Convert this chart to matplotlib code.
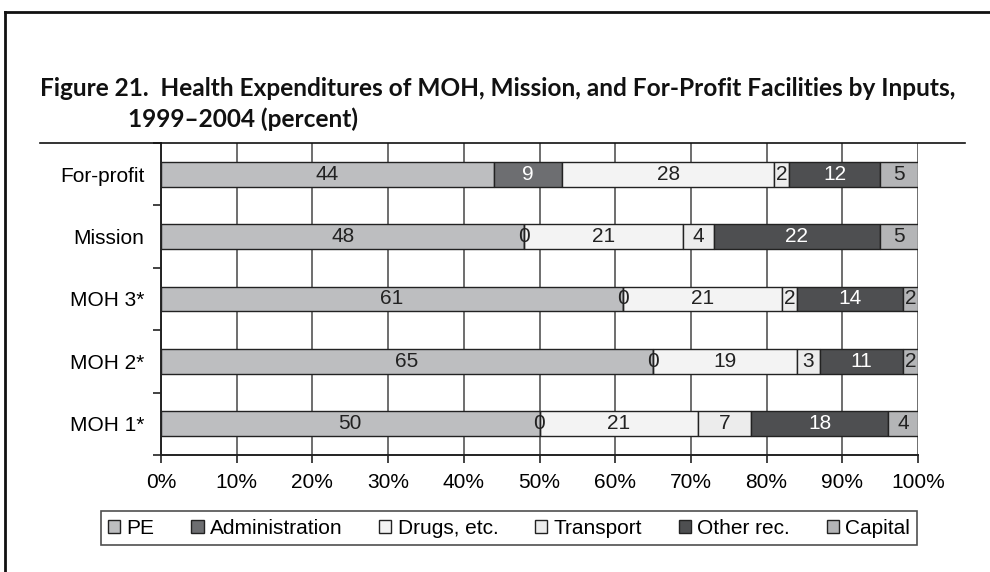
import matplotlib
matplotlib.use("Agg")
import matplotlib.pyplot as plt
from matplotlib.lines import Line2D
import numpy as np

categories = ["MOH 1*", "MOH 2*", "MOH 3*", "Mission", "For-profit"]
series_names = ["PE", "Administration", "Drugs, etc.", "Transport", "Other rec.", "Capital"]
pe = [50, 65, 61, 48, 44]
administration = [0, 0, 0, 0, 9]
drugs = [21, 19, 21, 21, 28]
transport = [7, 3, 2, 4, 2]
other_rec = [18, 11, 14, 22, 12]
capital = [4, 2, 2, 5, 5]
x_ticks = [0, 10, 20, 30, 40, 50, 60, 70, 80, 90, 100]
x_tick_labels = ["0%", "10%", "20%", "30%", "40%", "50%", "60%", "70%", "80%", "90%", "100%"]

colors = ["#bdbec0", "#6d6e71", "#f3f3f3", "#ececec", "#4e4f51", "#b4b5b7"]
text_colors = ["#222222", "white", "#222222", "#222222", "white", "#222222"]

plt.rcParams['font.family'] = ['Liberation Sans', 'DejaVu Sans']
FS = 15

fig = plt.figure(figsize=(9.9, 5.72), dpi=100)
ax = fig.add_axes([161/990, 1-455/572, (918-161)/990, (455-143)/572])

y = np.arange(len(categories))
left = np.zeros(len(categories))
all_series = [pe, administration, drugs, transport, other_rec, capital]
for vals, name, c, tc in zip(all_series, series_names, colors, text_colors):
    vals = np.array(vals, dtype=float)
    bars = ax.barh(y, vals, left=left, height=0.4, color=c, edgecolor="#222222",
                   linewidth=1.0, label=name, zorder=3)
    texts = ax.bar_label(bars, labels=[f"{int(v)}" for v in vals], label_type="center",
                         color=tc, fontsize=FS, zorder=5)
    for t, v, b in zip(texts, vals, bars):
        if v == 0:
            t.set_color("#222222")
            b.set_zorder(6)
    left += vals

ax.set_xlim(0, 100)
ax.set_ylim(-0.5, len(categories) - 0.5)
ax.set_xticks(x_ticks)
ax.set_xticklabels(x_tick_labels, fontsize=FS)
ax.set_yticks(y)
ax.set_yticklabels(categories, fontsize=FS)
ax.set_yticks(np.arange(-0.5, len(categories), 1.0), minor=True)
ax.tick_params(axis="y", which="major", length=0, pad=12)
ax.tick_params(axis="y", which="minor", length=6, width=1.2, color="#222222")
ax.tick_params(axis="x", length=6, width=1.2, color="#222222", pad=7)
ax.grid(axis="x", color="#555555", linewidth=1.2, zorder=0)
for s in ["top", "right"]:
    ax.spines[s].set_visible(False)
for s in ["left", "bottom"]:
    ax.spines[s].set_linewidth(1.4)
    ax.spines[s].set_color("#222222")

leg = fig.legend(loc="center", bbox_to_anchor=(509/990, 1-528/572), ncol=6,
                 fontsize=FS, frameon=True, fancybox=False, edgecolor="#222222",
                 handlelength=0.6, handleheight=0.6, handletextpad=0.3,
                 columnspacing=1.75, borderpad=0.35)
leg.get_frame().set_linewidth(1.2)

# Title
TFS = 17.6
fig.text(40/990, 1-88/572, "Figure 21.  Health Expenditures of MOH, Mission, and For-Profit Facilities by Inputs,",
         fontsize=TFS, fontweight="bold", family=["Lato", "DejaVu Sans"], va="center", ha="left", color="#111111")
fig.text(128/990, 1-119/572, "1999–2004 (percent)",
         fontsize=TFS, fontweight="bold", family=["Lato", "DejaVu Sans"], va="center", ha="left", color="#111111")

# rule under title
fig.add_artist(Line2D([40/990, 965/990], [1-143/572, 1-143/572], color="#111111", linewidth=1.2))
# page frame
fig.add_artist(Line2D([5/990, 5/990], [0, 1-12/572], color="#111111", linewidth=2))
fig.add_artist(Line2D([5/990, 1], [1-12/572, 1-12/572], color="#111111", linewidth=2))

fig.savefig("out.png", dpi=100)
